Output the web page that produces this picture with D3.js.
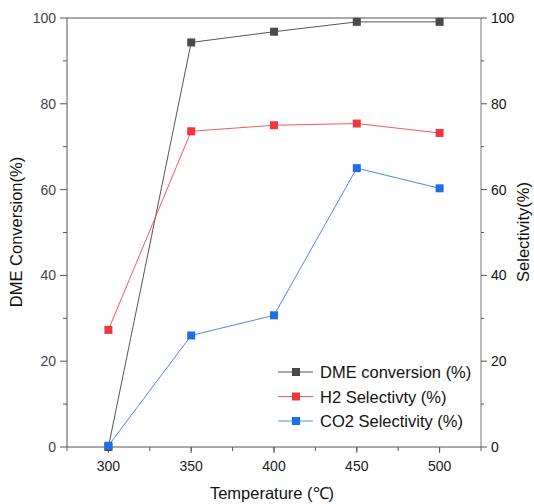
<!DOCTYPE html>
<html><head><meta charset="utf-8">
<script src="https://cdn.jsdelivr.net/npm/d3@7"></script>
<style>body{margin:0;background:#fff}svg{display:block}text{font-family:"Liberation Sans",Arial,sans-serif}</style>
</head><body>
<svg id="c" width="534" height="504"></svg>
<script>
const temps = [300, 350, 400, 450, 500];
const dmeConversion = [0, 94.3, 96.8, 99.1, 99.1];
const h2Selectivity = [27.3, 73.6, 75.0, 75.4, 73.2];
const co2Selectivity = [0.3, 26.0, 30.7, 65.0, 60.3];
const xTicks = [300, 350, 400, 450, 500];
const yTicks = [0, 20, 40, 60, 80, 100];
const seriesNames = ["DME conversion (%)", "H2 Selectivty (%)", "CO2 Selectivity (%)"];
const seriesColors = ["#4a4a4a", "#f0383c", "#1e6fe6"];
const lineColors = ["#555555", "#f25a5a", "#4a8ae8"];

const svg = d3.select("#c");
const L = 67, R = 481, T = 18, B = 447;
const x = d3.scaleLinear().domain([275, 525]).range([L, R]);
const y = d3.scaleLinear().domain([0, 100]).range([B, T]);

// frame top
svg.append("line").attr("x1", L).attr("x2", R).attr("y1", T).attr("y2", T).attr("stroke", "#555").attr("stroke-width", 1);

// Bottom axis
const xMinor = d3.range(275, 526, 25);
const gx = svg.append("g").attr("transform", `translate(0,${B})`);
gx.append("line").attr("x1", L).attr("x2", R).attr("stroke", "#555");
gx.selectAll(".mt").data(xMinor).join("line").attr("x1", d => x(d)).attr("x2", d => x(d)).attr("y1", 0).attr("y2", 4).attr("stroke", "#555");
gx.selectAll(".t").data(xTicks).join("line").attr("x1", d => x(d)).attr("x2", d => x(d)).attr("y1", 0).attr("y2", 6).attr("stroke", "#555");
gx.selectAll("text").data(xTicks).join("text").attr("x", d => x(d)).attr("y", 24).attr("text-anchor", "middle").attr("font-size", 14).attr("fill", "#222").text(d => d);

// Left axis
const yMinor = d3.range(10, 100, 20);
const gl = svg.append("g").attr("transform", `translate(${L},0)`);
gl.append("line").attr("y1", T).attr("y2", B).attr("stroke", "#555");
gl.selectAll(".t").data(yTicks).join("line").attr("x1", -7).attr("x2", 0).attr("y1", d => y(d)).attr("y2", d => y(d)).attr("stroke", "#555");
gl.selectAll(".m").data(yMinor).join("line").attr("x1", -4).attr("x2", 0).attr("y1", d => y(d)).attr("y2", d => y(d)).attr("stroke", "#555");
gl.selectAll("text").data(yTicks).join("text").attr("x", -11).attr("y", d => y(d) + 5).attr("text-anchor", "end").attr("font-size", 14).attr("fill", "#444").text(d => d);

// Right axis
const gr = svg.append("g").attr("transform", `translate(${R},0)`);
gr.append("line").attr("y1", T).attr("y2", B).attr("stroke", "#777");
gr.selectAll(".t").data(yTicks).join("line").attr("x1", 0).attr("x2", 6).attr("y1", d => y(d)).attr("y2", d => y(d)).attr("stroke", "#555");
gr.selectAll(".m").data(yMinor).join("line").attr("x1", 0).attr("x2", 3).attr("y1", d => y(d)).attr("y2", d => y(d)).attr("stroke", "#555");
gr.selectAll("text").data(yTicks).join("text").attr("x", 10).attr("y", d => y(d) + 5).attr("text-anchor", "start").attr("font-size", 14).attr("fill", "#111").text(d => d);

// Titles
svg.append("text").attr("x", 272).attr("y", 499).attr("text-anchor", "middle").attr("font-size", 16.5).attr("fill", "#111").text("Temperature (℃)");
svg.append("text").attr("transform", `translate(22,232) rotate(-90)`).attr("text-anchor", "middle").attr("font-size", 16.5).attr("fill", "#111").text("DME Conversion(%)");
svg.append("text").attr("transform", `translate(529,232) rotate(-90)`).attr("text-anchor", "middle").attr("font-size", 16.5).attr("fill", "#111").text("Selectivity(%)");

// Series
const series = [dmeConversion, h2Selectivity, co2Selectivity];
const line = d3.line().x((d, i) => x(temps[i])).y(d => y(d));
series.forEach((vals, k) => {
  svg.append("path").datum(vals).attr("d", line).attr("fill", "none").attr("stroke", lineColors[k]).attr("stroke-width", 1);
  svg.selectAll(".p" + k).data(vals).join("rect")
    .attr("x", (d, i) => x(temps[i]) - 4).attr("y", d => y(d) - 4)
    .attr("width", 8).attr("height", 8).attr("fill", seriesColors[k]);
});

// Legend
const lg = svg.append("g");
seriesNames.forEach((name, k) => {
  const yy = 372 + k * 24.5;
  lg.append("line").attr("x1", 278).attr("x2", 313).attr("y1", yy).attr("y2", yy).attr("stroke", lineColors[k]);
  lg.append("rect").attr("x", 292).attr("y", yy - 4).attr("width", 8).attr("height", 8).attr("fill", seriesColors[k]);
  lg.append("text").attr("x", 320).attr("y", yy + 6).attr("font-size", 16.5).attr("fill", "#111").text(name);
});
</script>
</body></html>
